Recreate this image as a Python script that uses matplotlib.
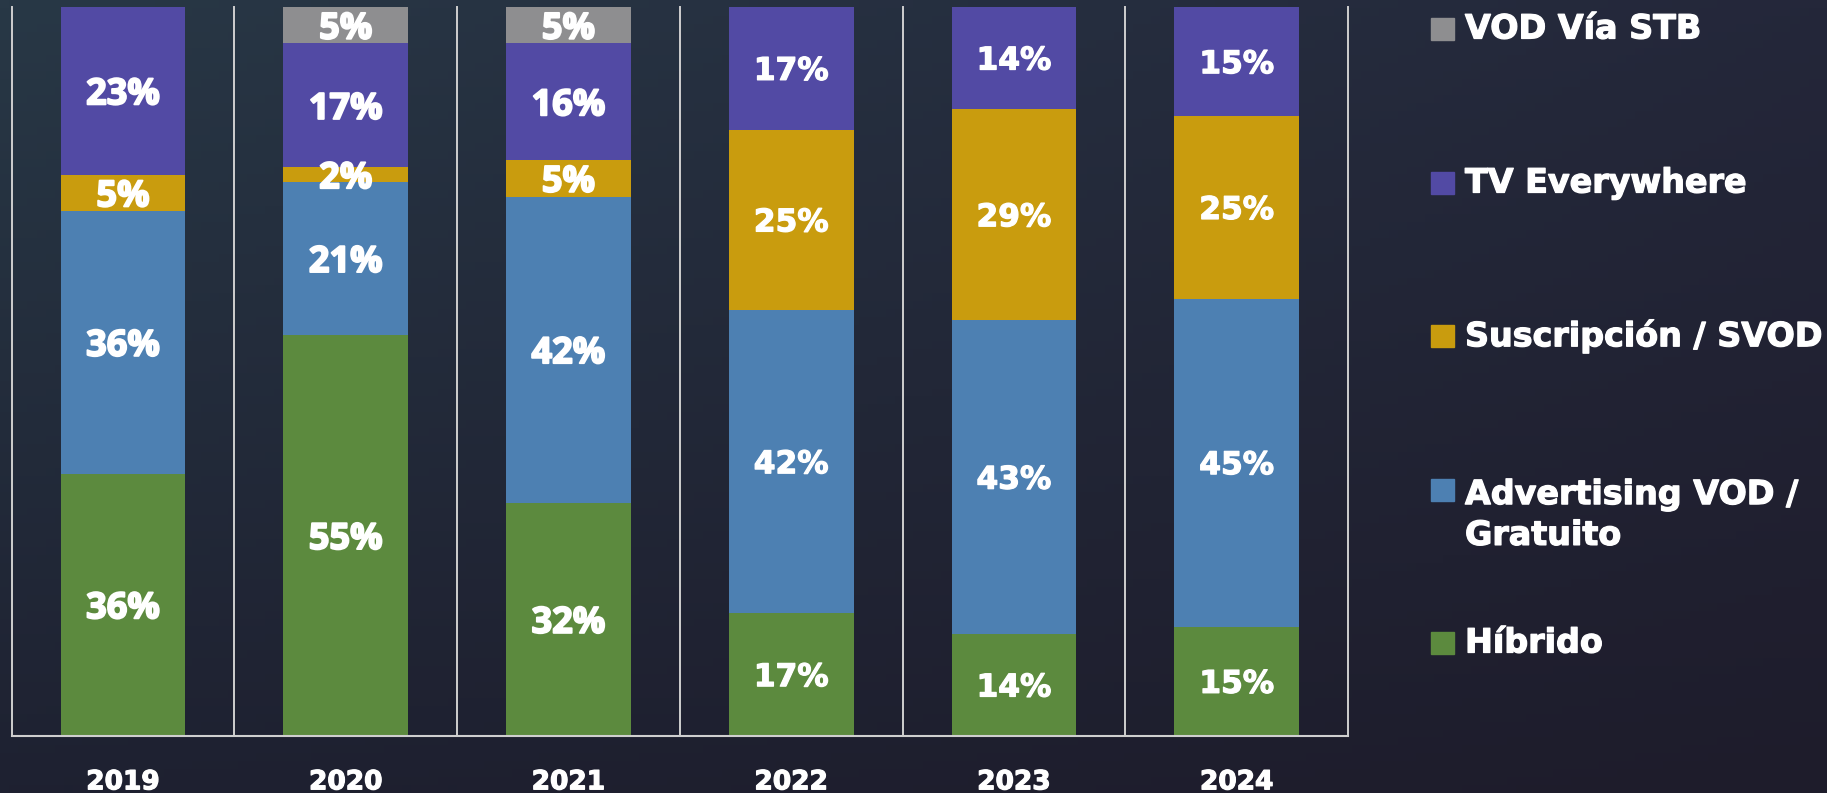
import numpy as np
import matplotlib
matplotlib.use("Agg")
import matplotlib.pyplot as plt
import matplotlib.patheffects as pe
from matplotlib.patches import Rectangle

# data, bottom to top of each bar
years = ["2019", "2020", "2021", "2022", "2023", "2024"]
series = ["Híbrido", "Advertising VOD /\nGratuito", "Suscripción / SVOD",
          "TV Everywhere", "VOD Vía STB"]
hibrido = [36, 55, 32, 17, 14, 15]
advertising = [36, 21, 42, 42, 43, 45]
suscripcion = [5, 2, 5, 25, 29, 25]
tv_everywhere = [23, 17, 16, 17, 14, 15]
vod_stb = [0, 5, 5, 0, 0, 0]

colors = ["#5c8a3e", "#4d80b2", "#c99c0e", "#524aa4", "#8e8e90"]

values = np.array([hibrido, advertising, suscripcion, tv_everywhere, vod_stb], dtype=float)
totals = values.sum(axis=0)
shares = values / totals * 100.0  # 100% stacked

W, H = 1827, 793
fig = plt.figure(figsize=(W / 100, H / 100), dpi=100)

# dark background with a soft gradient
bg = fig.add_axes([0, 0, 1, 1], zorder=-10)
tl, tr = np.array([0x28, 0x38, 0x46]), np.array([0x24, 0x27, 0x3a])
bl, br = np.array([0x1e, 0x21, 0x31]), np.array([0x1e, 0x1c, 0x2b])
u = np.linspace(0, 1, 200)[None, :, None]
v = np.linspace(0, 1, 100)[:, None, None]
grad = (tl * (1 - u) * (1 - v) + tr * u * (1 - v) + bl * (1 - u) * v + br * u * v) / 255.0
bg.imshow(grad, aspect="auto", extent=[0, 1, 0, 1], origin="upper")
bg.set_axis_off()

ax = fig.add_axes([11.7 / W, 57 / H, (1348 - 11.7) / W, (786 - 57) / H])
ax.patch.set_alpha(0)

heavy = [pe.withStroke(linewidth=0.9, foreground="white")]
heavier = [pe.withStroke(linewidth=1.4, foreground="white")]

x = np.arange(len(years))
bottom = np.zeros(len(years))
for k in range(len(series)):
    ax.bar(x, shares[k], bottom=bottom, width=0.56, color=colors[k],
           edgecolor="none", zorder=2)
    for i in range(len(years)):
        if values[k, i] > 0:
            if i < 3:
                fam, size, fx = "Open Sans", 26, heavier
            else:
                fam, size, fx = "DejaVu Sans", 22.5, heavy
            ax.text(x[i], bottom[i] + shares[k, i] / 2, "%d%%" % values[k, i],
                    ha="center", va="center_baseline", color="white", fontsize=size,
                    fontweight="bold", family=fam, zorder=3, path_effects=fx)
    bottom += shares[k]

ax.set_xlim(-0.5, len(years) - 0.5)
ax.set_ylim(0, 100)
for s in ["left", "right", "top"]:
    ax.spines[s].set_visible(False)
ax.spines["bottom"].set_color("#cfcfcf")
ax.spines["bottom"].set_linewidth(1.5)
for i in range(len(years) + 1):
    ax.axvline(i - 0.5, color="#cfcfcf", lw=1.4, clip_on=False, zorder=1)

ax.set_yticks([])
ax.set_xticks(x)
ax.set_xticklabels(years, color="white", fontsize=19, fontweight="bold")
for t in ax.get_xticklabels():
    t.set_path_effects(heavy)
ax.tick_params(axis="x", length=0, pad=24)

# legend, top entry first
leg_y = [29, 183, 336, 515, 643]
for k, yy in zip(range(len(series) - 1, -1, -1), leg_y):
    ty = yy if "\n" not in series[k] else 490
    fig.patches.append(Rectangle((1431 / W, 1 - (ty + 11) / H), 23 / W, 22 / H,
                                 transform=fig.transFigure, color=colors[k]))
    fig.text(1465 / W, 1 - yy / H, series[k], ha="left", va="center",
             color="white", fontsize=24, fontweight="bold", linespacing=1.3,
             path_effects=heavy)

fig.savefig("out.png", dpi=100)
